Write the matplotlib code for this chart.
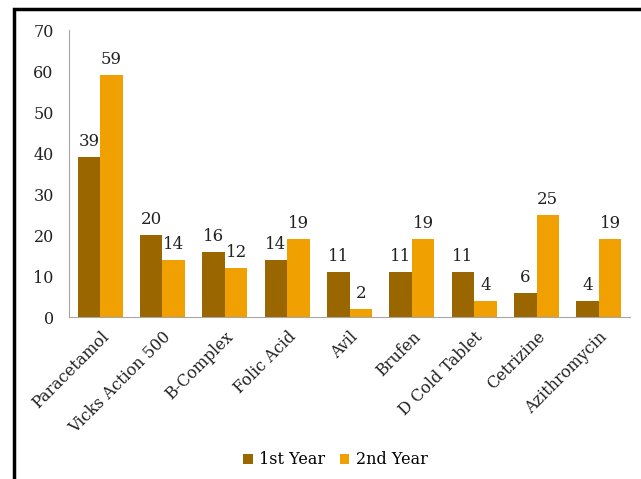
import matplotlib
matplotlib.use('Agg')
import matplotlib.pyplot as plt
from matplotlib.patches import Rectangle
import numpy as np

drugs = ['Paracetamol', 'Vicks Action 500', 'B-Complex', 'Folic Acid', 'Avil',
         'Brufen', 'D Cold Tablet', 'Cetrizine', 'Azithromycin']
first_year = [39, 20, 16, 14, 11, 11, 11, 6, 4]
second_year = [59, 14, 12, 19, 2, 19, 4, 25, 19]

plt.rcParams['font.family'] = ['DejaVu Serif']

fig = plt.figure(figsize=(6.41, 4.79), dpi=100)
ax = fig.add_axes([0.1076, 0.338, 0.8754, 0.599])

x = np.arange(len(drugs))
w = 0.36
b1 = ax.bar(x - w / 2, first_year, w, color='#996600', label='1st Year')
b2 = ax.bar(x + w / 2, second_year, w, color='#F0A000', label='2nd Year')

for bars, vals in ((b1, first_year), (b2, second_year)):
    for bar, v in zip(bars, vals):
        ax.annotate(str(v), (bar.get_x() + bar.get_width() / 2, v),
                    xytext=(0, 5), textcoords='offset points',
                    ha='center', va='bottom', fontsize=12, color='#222222')

ax.set_xlim(-0.5, len(drugs) - 0.5)
ax.set_ylim(0, 70)
ax.set_yticks(range(0, 71, 10))
ax.set_xticks(x)
ax.set_xticklabels(drugs, rotation=45, ha='right', rotation_mode='anchor')
ax.tick_params(length=0, labelsize=11.5, colors='#222222')
ax.tick_params(axis='y', pad=11)
ax.tick_params(axis='x', pad=8)
for s in ('top', 'right'):
    ax.spines[s].set_visible(False)
for s in ('left', 'bottom'):
    ax.spines[s].set_color('#a6a6a6')

fig.legend(loc='center', bbox_to_anchor=(0.523, 0.04), ncol=2, frameon=False,
           fontsize=11.5, handlelength=0.6, handleheight=0.6,
           handletextpad=0.4, columnspacing=0.9)

# outer chart border (only left and top edges fall inside the image)
fig.patches.append(Rectangle((14 / 641, -0.1), 1.2, 1 - 9 / 479 + 0.1,
                             transform=fig.transFigure, fill=False,
                             edgecolor='black', linewidth=2.5))

fig.savefig('out.png', dpi=100)
